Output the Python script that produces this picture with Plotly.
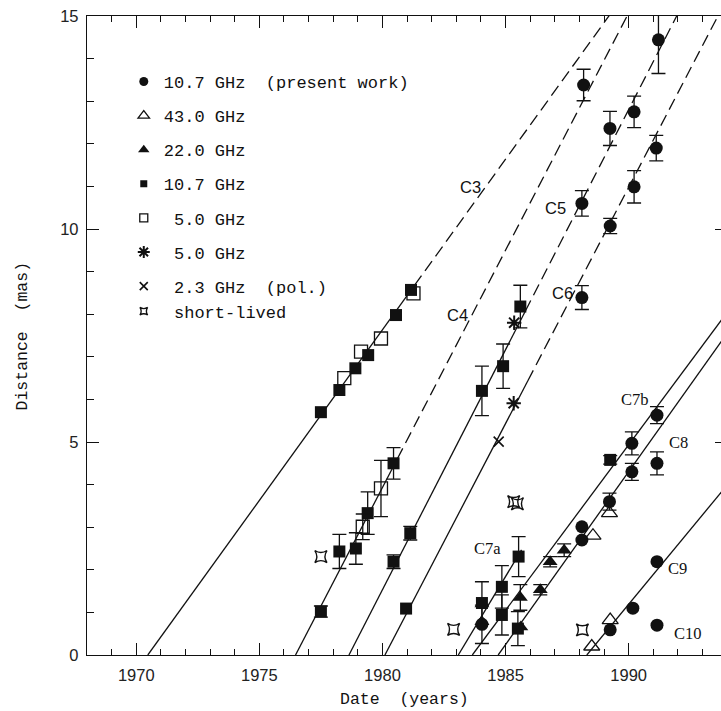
import plotly.graph_objects as go

# ---------------- data ----------------
# Linear fits of component motion: start year (distance 0), slope (mas/yr),
# end of the solid (fitted) part; beyond that, dashed extrapolation to 15 mas
LINE_NAMES = ["C3", "C4", "C5", "C6", "C7a", "C7b", "C8", "C9"]
LINE_T0 = [1970.47, 1976.47, 1978.64, 1980.10, 1983.08, 1983.65, 1984.70, 1988.30]
LINE_SLOPE = [0.801, 1.114, 1.127, 1.109, 0.960, 0.777, 0.812, 0.700]
LINE_SOLID_END = [1981.30, 1980.60, 1985.80, 1985.90, 1985.65, 1994.0, 1994.0, 1994.0]
LINE_DASHED = [True, True, True, True, False, False, False, False]

# 10.7 GHz (present work) - filled circles
PW_X = [1988.17, 1988.10, 1989.24, 1990.22, 1991.21, 1988.10, 1989.25, 1990.22, 1991.12,
        1990.13, 1991.15, 1989.22, 1990.13, 1991.15, 1984.04,
        1988.10, 1988.10, 1991.15, 1990.17, 1989.25, 1991.15]
PW_Y = [13.38, 10.60, 12.36, 12.75, 14.44, 8.39, 10.07, 10.99, 11.90,
        4.97, 5.63, 3.60, 4.30, 4.50, 0.72,
        3.01, 2.70, 2.19, 1.10, 0.59, 0.70]
PW_E = [0.37, 0.30, 0.40, 0.37, 0.79, 0.28, 0.18, 0.38, 0.30,
        0.27, 0.20, 0.20, 0.20, 0.27, 0.45,
        0, 0, 0, 0, 0, 0]

# 43.0 GHz - open triangles
Q_X = [1988.55, 1989.22, 1989.25, 1988.50]
Q_Y = [2.80, 3.33, 0.82, 0.20]
Q_E = [0, 0, 0, 0]

# 22.0 GHz - filled triangles
K_X = [1986.41, 1986.81, 1987.38, 1985.60, 1985.62, 1984.04, 1984.04]
K_Y = [1.53, 2.19, 2.46, 1.35, 0.66, 1.20, 0.78]
K_E = [0.12, 0.12, 0.15, 0.30, 0, 0, 0]

# 10.7 GHz (earlier) - filled squares
X_X = [1977.50, 1978.25, 1978.90, 1979.42, 1980.55, 1981.16, 1980.96,
       1977.50, 1978.25, 1978.92, 1979.40, 1980.45, 1980.45, 1981.13,
       1984.04, 1984.90, 1985.60, 1984.04, 1984.85, 1984.85, 1985.53, 1985.50, 1989.25]
X_Y = [5.70, 6.22, 6.73, 7.04, 7.98, 8.57, 1.09,
       1.02, 2.43, 2.50, 3.33, 4.50, 2.19, 2.86,
       6.20, 6.78, 8.18, 1.22, 1.60, 0.94, 2.31, 0.62, 4.58]
X_E = [0, 0, 0, 0, 0, 0, 0,
       0.13, 0.40, 0.37, 0.50, 0.37, 0.16, 0.16,
       0.58, 0.52, 0.50, 0.50, 0.50, 0.47, 0.47, 0.40, 0.10]

# 5.0 GHz - open squares
C_X = [1978.45, 1979.13, 1979.94, 1981.26, 1979.20, 1979.94]
C_Y = [6.50, 7.12, 7.43, 8.49, 3.01, 3.91]
C_E = [0, 0, 0, 0, 0.30, 0.66]

# 5.0 GHz - asterisks
A_X = [1985.35, 1985.33]
A_Y = [7.80, 5.91]
A_E = [0, 0]

# 2.3 GHz (pol.) - crosses
S_X = [1984.72]
S_Y = [5.01]
S_E = [0]

# short-lived components
SL_X = [1977.50, 1982.89, 1985.33, 1985.48, 1988.12]
SL_Y = [2.31, 0.60, 3.60, 3.55, 0.59]
SL_E = [0, 0, 0, 0, 0]

LEGEND_LABELS = ["10.7 GHz  (present work)", "43.0 GHz", "22.0 GHz", "10.7 GHz",
                 " 5.0 GHz", " 5.0 GHz", " 2.3 GHz  (pol.)", " short-lived"]

# component label positions (year, mas)
LABEL_TEXT = ["C3", "C4", "C5", "C6", "C7a", "C7b", "C8", "C9", "C10"]
LABEL_X = [1983.56, 1983.03, 1987.02, 1987.30, 1984.26, 1990.26, 1992.01, 1991.97, 1992.41]
LABEL_Y = [10.99, 7.98, 10.49, 8.50, 2.51, 5.99, 4.98, 2.03, 0.51]

# ---------------- styles ----------------
INK = "#111111"
MONO = "Liberation Mono, Courier New, monospace"
SANS = "Liberation Sans, Arial, sans-serif"
SERIF = "Liberation Serif, Times New Roman, serif"

SERIES = [
    # (x, y, err, symbol, size, line width, legend size)
    (PW_X, PW_Y, PW_E, "circle", 13, 0, 9),
    (Q_X, Q_Y, Q_E, "triangle-up-open", 14, 1.3, 10),
    (K_X, K_Y, K_E, "triangle-up", 13, 0, 10),
    (X_X, X_Y, X_E, "square", 12, 0, 7),
    (C_X, C_Y, C_E, "square-open", 13, 1.3, 8),
    (A_X, A_Y, A_E, "asterisk-open", 12, 2.0, 10),
    (S_X, S_Y, S_E, "x-thin-open", 10, 1.6, 8),
    (SL_X, SL_Y, SL_E, "star-square-open", 11, 1.4, 7),
]
LEGEND_GROUPS = ["g1", "g2", "g3", "g4", "g5", "g6", "g7", "g7"]

fig = go.Figure()

# fitted lines
for name, t0, k, t_solid, dashed in zip(LINE_NAMES, LINE_T0, LINE_SLOPE, LINE_SOLID_END, LINE_DASHED):
    fig.add_trace(go.Scatter(x=[t0, t_solid], y=[0, k * (t_solid - t0)], mode="lines",
                             line=dict(color=INK, width=1.3), showlegend=False, hoverinfo="skip"))
    if dashed:
        t_top = t0 + 15.3 / k
        fig.add_trace(go.Scatter(x=[t_solid, t_top], y=[k * (t_solid - t0), 15.3], mode="lines",
                                 line=dict(color=INK, width=1.3, dash="12px,6px"),
                                 showlegend=False, hoverinfo="skip"))

# data points
for (xs, ys, es, sym, size, lw, lsize), lab, grp in zip(SERIES, LEGEND_LABELS, LEGEND_GROUPS):
    marker = dict(symbol=sym, size=size, color=INK, line=dict(color=INK, width=lw))
    xe = [x for x, e in zip(xs, es) if e > 0]
    ye = [y for y, e in zip(ys, es) if e > 0]
    ee = [e for e in es if e > 0]
    xn = [x for x, e in zip(xs, es) if e <= 0]
    yn = [y for y, e in zip(ys, es) if e <= 0]
    if xe:
        fig.add_trace(go.Scatter(x=xe, y=ye, mode="markers", marker=marker,
                                 error_y=dict(type="data", array=ee, visible=True, color=INK,
                                              thickness=1.3, width=7),
                                 showlegend=False, legendgroup=grp))
    if xn:
        fig.add_trace(go.Scatter(x=xn, y=yn, mode="markers", marker=marker,
                                 showlegend=False, legendgroup=grp))
    # legend entry
    fig.add_trace(go.Scatter(x=[None], y=[None], mode="markers", name=lab.replace(" ", "\u00a0"),
                             marker=dict(symbol=sym, size=lsize, color=INK, line=dict(color=INK, width=lw)),
                             legendgroup=grp, showlegend=True))

# helper trace for the right-hand tick axis
fig.add_trace(go.Scatter(x=[None], y=[None], yaxis="y2", showlegend=False, hoverinfo="skip"))

annotations = []
for t, x, y in zip(LABEL_TEXT, LABEL_X, LABEL_Y):
    fam = SANS if t in ("C3", "C4", "C5", "C6") else SERIF
    annotations.append(dict(x=x, y=y, text=t, showarrow=False, xref="x", yref="y",
                            font=dict(family=fam, size=16.5, color=INK)))
annotations.append(dict(x=0.5, y=-0.0704, xref="paper", yref="paper", text="Date\u00a0\u00a0(years)",
                        showarrow=False, yanchor="middle",
                        font=dict(family=MONO, size=16.5, color=INK)))
annotations.append(dict(x=-0.101, y=0.5, xref="paper", yref="paper", text="Distance\u00a0\u00a0(mas)",
                        showarrow=False, textangle=-90, xanchor="center", yanchor="middle",
                        font=dict(family=MONO, size=16.5, color=INK)))

fig.update_layout(
    width=721, height=711,
    margin=dict(l=87, r=0, t=16, b=56),
    paper_bgcolor="white", plot_bgcolor="white",
    showlegend=True,
    legend=dict(x=0.058, y=0.925, xanchor="left", yanchor="top", bgcolor="rgba(0,0,0,0)",
                font=dict(family=MONO, size=17, color=INK), tracegroupgap=9,
                traceorder="grouped", itemclick=False, itemdoubleclick=False),
    xaxis=dict(range=[1968.0, 1993.75], tick0=1970, dtick=5, ticks="inside", ticklen=12,
               tickwidth=1.2, tickcolor=INK, showline=True, linecolor=INK, linewidth=1.3,
               mirror="ticks", showgrid=False, zeroline=False,
               minor=dict(dtick=1, ticks="inside", ticklen=6, tickwidth=1.2, tickcolor=INK),
               tickfont=dict(family=SANS, size=16.5, color="#222222"), ticklabelstandoff=5),
    yaxis=dict(range=[0, 15], tick0=0, dtick=5, ticks="inside", ticklen=12, tickwidth=1.2,
               tickcolor=INK, showline=True, linecolor=INK, linewidth=1.3, showgrid=False,
               zeroline=False,
               minor=dict(dtick=1, ticks="inside", ticklen=7, tickwidth=1.2, tickcolor=INK),
               tickfont=dict(family=SANS, size=16.5, color="#222222"), ticklabelstandoff=4),
    yaxis2=dict(overlaying="y", matches="y", side="right", anchor="x", ticks="inside", ticklen=6,
                tickwidth=1.2, tickcolor=INK, dtick=5, showticklabels=False, showline=False,
                showgrid=False, zeroline=False),
    annotations=annotations,
)

fig.write_html("out.html")
